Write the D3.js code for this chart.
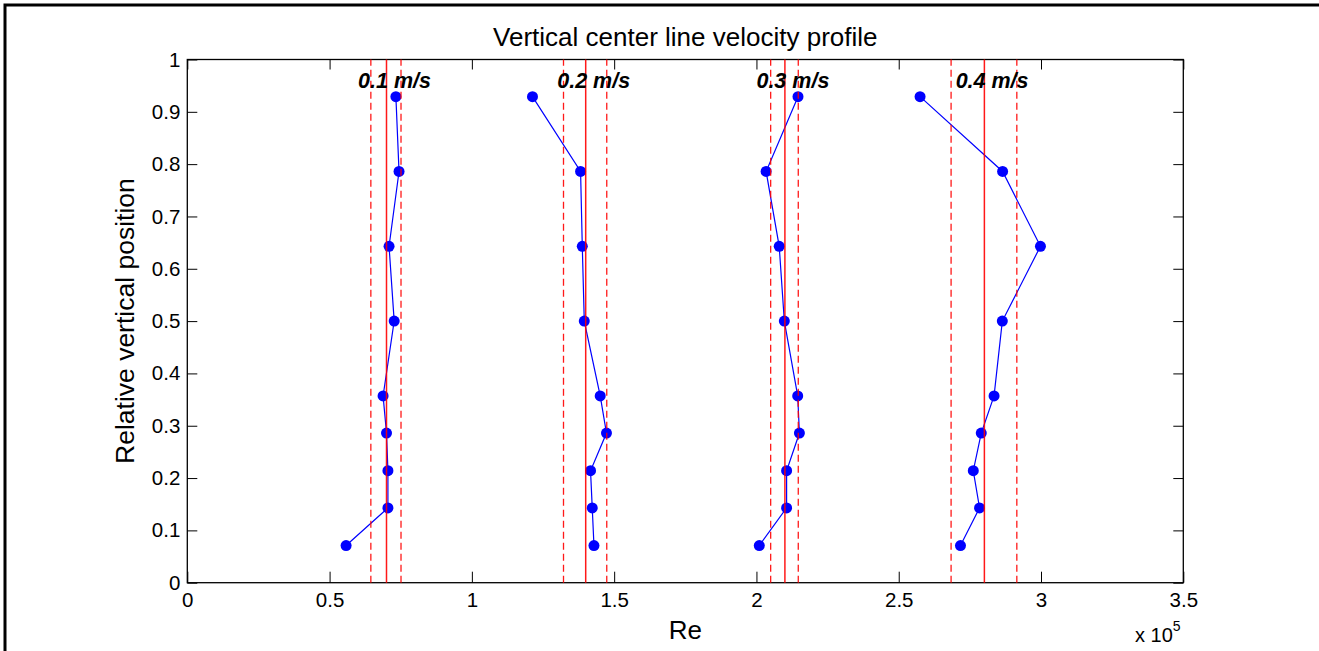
<!DOCTYPE html>
<html>
<head>
<meta charset="utf-8">
<script src="https://cdn.jsdelivr.net/npm/d3@7"></script>
<style>
  body { margin: 0; background: #fff; }
  text { font-family: "Liberation Sans", Arial, Helvetica, sans-serif; }
</style>
</head>
<body>
<svg id="chart"></svg>
<script>
// data (Re in units of 1e5)
const positions = [0.929, 0.786, 0.643, 0.5, 0.357, 0.286, 0.214, 0.143, 0.071]
const re01 = [0.733, 0.744, 0.709, 0.727, 0.688, 0.700, 0.705, 0.705, 0.558]
const re02 = [1.213, 1.382, 1.388, 1.395, 1.451, 1.473, 1.417, 1.423, 1.429]
const re03 = [2.146, 2.034, 2.080, 2.098, 2.145, 2.151, 2.106, 2.106, 2.010]
const re04 = [2.575, 2.865, 2.998, 2.864, 2.835, 2.790, 2.762, 2.784, 2.717]
const speedLabels = ["0.1 m/s", "0.2 m/s", "0.3 m/s", "0.4 m/s"]
const meanRe = [0.700, 1.400, 2.100, 2.801]
const lowRe = [0.645, 1.322, 2.050, 2.684]
const highRe = [0.751, 1.474, 2.147, 2.915]
const labelRe = [0.60, 1.30, 2.00, 2.70]
const xTicks = [0, 0.5, 1, 1.5, 2, 2.5, 3, 3.5]
const yTicks = [0, 0.1, 0.2, 0.3, 0.4, 0.5, 0.6, 0.7, 0.8, 0.9, 1]

const series = [re01, re02, re03, re04]

const W = 1319, H = 651
const svg = d3.select("svg#chart")
              .attr("width", W)
              .attr("height", H)

// outer frame (top + left only visible)
svg.append("path")
   .attr("d", "M5,660 L5,5 L1319,5")
   .attr("fill", "none")
   .attr("stroke", "black")
   .attr("stroke-width", 3)

const axL = 187.3, axR = 1183.3, axT = 59.5, axB = 582.7

const x = d3.scaleLinear().domain([0, 3.5]).range([axL, axR])
const y = d3.scaleLinear().domain([0, 1]).range([axB, axT])

//axes box
svg.append("rect")
   .attr("x", axL)
   .attr("y", axT)
   .attr("width", axR - axL)
   .attr("height", axB - axT)
   .attr("fill", "white")
   .attr("stroke", "black")
   .attr("stroke-width", 1.3)

// ticks inside, on all four sides
const fmt = d => String(+d.toFixed(2))
const xb = svg.append("g").attr("transform", `translate(0,${axB})`)
              .call(d3.axisBottom(x).tickValues(xTicks).tickSizeInner(-11).tickSizeOuter(0).tickPadding(10).tickFormat(fmt))
const xt = svg.append("g").attr("transform", `translate(0,${axT})`)
              .call(d3.axisTop(x).tickValues(xTicks).tickSizeInner(-10).tickSizeOuter(0).tickFormat(""))
const yl = svg.append("g").attr("transform", `translate(${axL},0)`)
              .call(d3.axisLeft(y).tickValues(yTicks).tickSizeInner(-10).tickSizeOuter(0).tickPadding(7).tickFormat(fmt))
const yr = svg.append("g").attr("transform", `translate(${axR},0)`)
              .call(d3.axisRight(y).tickValues(yTicks).tickSizeInner(-10).tickSizeOuter(0).tickFormat(""))

;[xb, xt, yl, yr].forEach(g => {
  g.select(".domain").remove()
  g.attr("font-family", null).attr("font-size", null)
  g.selectAll("line").attr("stroke", "black").attr("stroke-width", 1)
  g.selectAll("text").style("font-size", "20.5px").attr("fill", "black")
})

//profiles
const line = d3.line()
               .x(d => x(d[0]))
               .y(d => y(d[1]))

series.forEach(s => {
  const pts = s.map((v, i) => [v, positions[i]])
  svg.append("path")
     .attr("d", line(pts))
     .attr("fill", "none")
     .attr("stroke", "blue")
     .attr("stroke-width", 1.2)
  pts.forEach(p => {
    svg.append("circle")
       .attr("cx", x(p[0]))
       .attr("cy", y(p[1]))
       .attr("r", 5.5)
       .attr("fill", "blue")
  })
})

//mean and bounds
meanRe.forEach((m, i) => {
  svg.append("line")
     .attr("x1", x(m)).attr("x2", x(m))
     .attr("y1", y(0)).attr("y2", y(1))
     .attr("stroke", "red")
     .attr("stroke-opacity", 0.9)
     .attr("stroke-width", 1.5)
  ;[lowRe[i], highRe[i]].forEach(b => {
    svg.append("line")
       .attr("x1", x(b)).attr("x2", x(b))
       .attr("y1", y(0)).attr("y2", y(1))
       .attr("stroke", "red")
       .attr("stroke-opacity", 0.9)
       .attr("stroke-width", 1.3)
       .attr("stroke-dasharray", "7,4")
  })
})

//speed labels
speedLabels.forEach((t, i) => {
  svg.append("text")
     .attr("x", x(labelRe[i]))
     .attr("y", y(0.945))
     .style("font-size", "21.5px")
     .attr("font-weight", "bold")
     .attr("font-style", "italic")
     .text(t)
})

//titles
svg.append("text")
   .attr("x", (axL + axR) / 2)
   .attr("y", 46)
   .attr("text-anchor", "middle")
   .style("font-size", "26px")
   .text("Vertical center line velocity profile")

svg.append("text")
   .attr("x", (axL + axR) / 2)
   .attr("y", 639)
   .attr("text-anchor", "middle")
   .style("font-size", "26px")
   .text("Re")

svg.append("text")
   .attr("transform", `translate(134,${(axT + axB) / 2}) rotate(-90)`)
   .attr("text-anchor", "middle")
   .style("font-size", "26.5px")
   .text("Relative vertical position")

const mult = svg.append("text")
   .attr("x", 1135)
   .attr("y", 642)
   .style("font-size", "20px")
mult.append("tspan").text("x 10")
mult.append("tspan").attr("dy", -11).style("font-size", "14px").text("5")
</script>
</body>
</html>
